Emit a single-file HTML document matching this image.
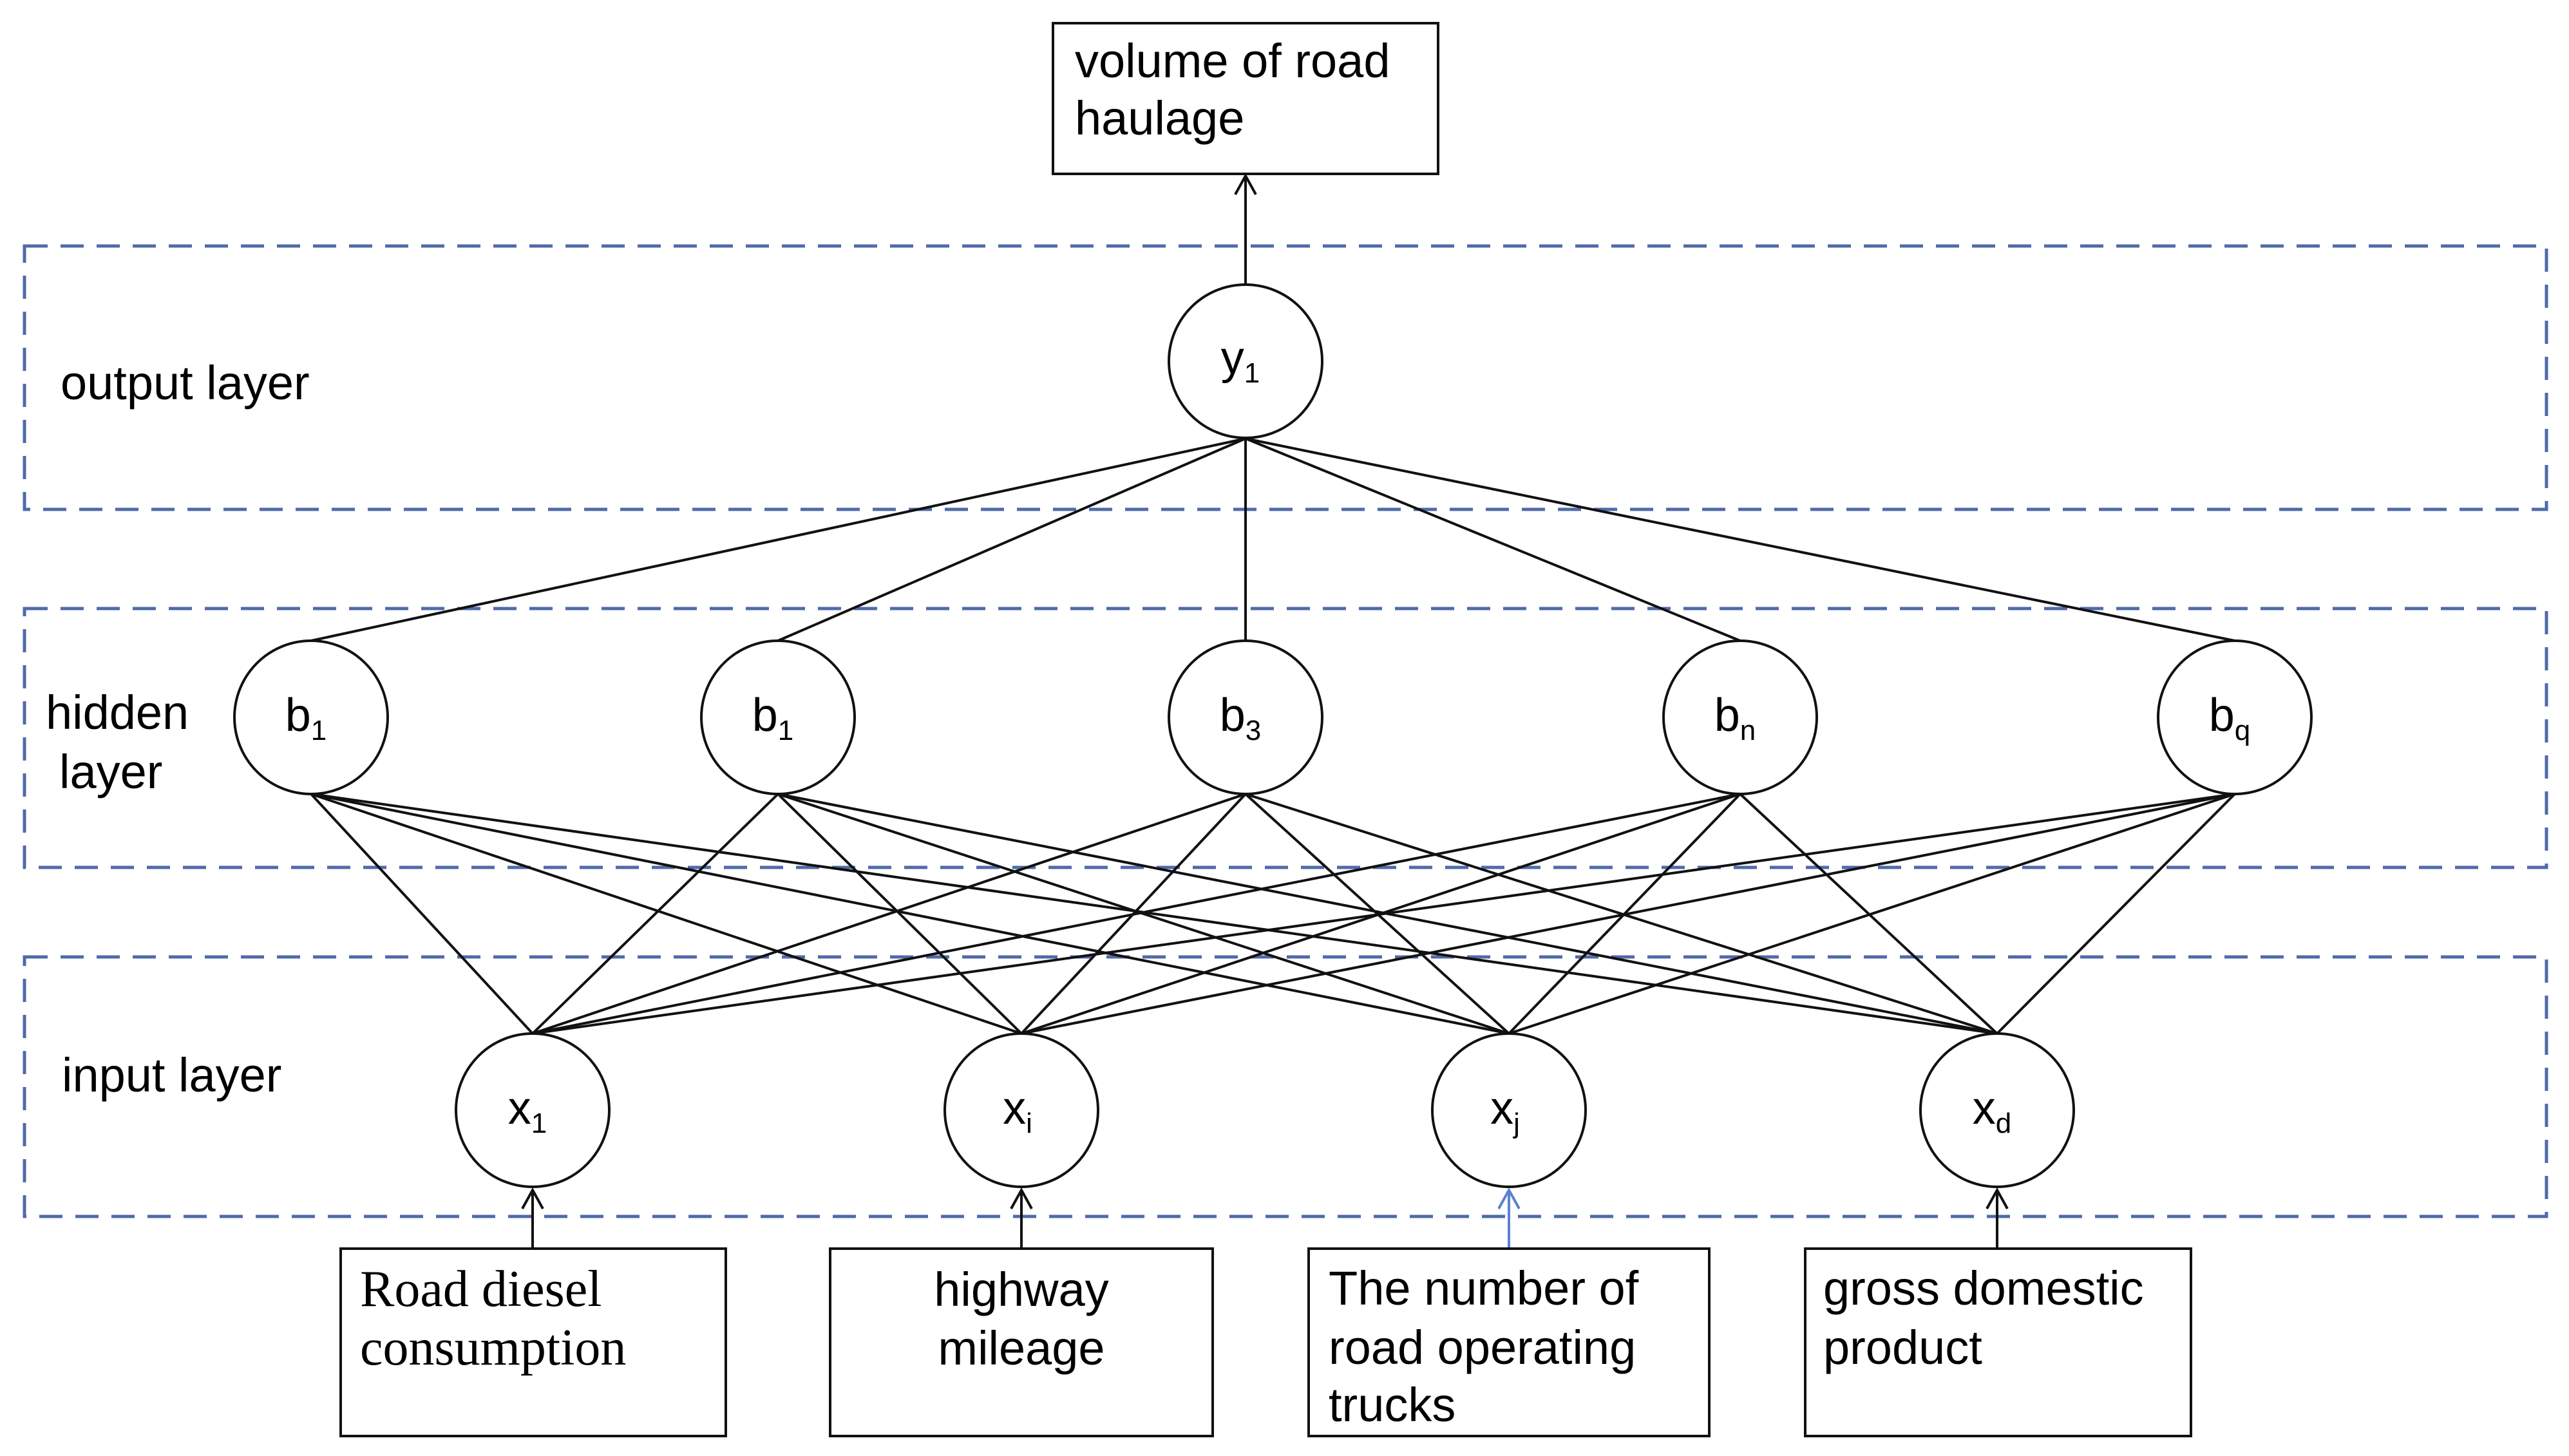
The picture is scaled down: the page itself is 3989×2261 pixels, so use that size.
<!DOCTYPE html>
<html><head><meta charset="utf-8"><style>
html,body{margin:0;padding:0;background:#fff;}
svg{display:block;}
text{font-family:"Liberation Sans",sans-serif;fill:#000;}
text.serif{font-family:"Liberation Serif",serif;}
</style></head><body>
<svg width="3989" height="2261" viewBox="0 0 3989 2261" xmlns="http://www.w3.org/2000/svg">
<g fill="none" stroke="#4f6aa8" stroke-width="5" stroke-dasharray="36,20">
<rect x="38" y="382" width="3916" height="409"/>
<rect x="38" y="945" width="3916" height="402"/>
<rect x="38" y="1486" width="3916" height="403"/>
</g>
<g stroke="#111" stroke-width="4" fill="none">
<line x1="483" y1="995" x2="1934" y2="681"/>
<line x1="1208" y1="995" x2="1934" y2="681"/>
<line x1="1934" y1="995" x2="1934" y2="681"/>
<line x1="2702" y1="995" x2="1934" y2="681"/>
<line x1="3470" y1="995" x2="1934" y2="681"/>
<line x1="827" y1="1605" x2="483" y2="1233"/><line x1="827" y1="1605" x2="1208" y2="1233"/><line x1="827" y1="1605" x2="1934" y2="1233"/><line x1="827" y1="1605" x2="2702" y2="1233"/><line x1="827" y1="1605" x2="3470" y2="1233"/>
<line x1="1586" y1="1605" x2="483" y2="1233"/><line x1="1586" y1="1605" x2="1208" y2="1233"/><line x1="1586" y1="1605" x2="1934" y2="1233"/><line x1="1586" y1="1605" x2="2702" y2="1233"/><line x1="1586" y1="1605" x2="3470" y2="1233"/>
<line x1="2343" y1="1605" x2="483" y2="1233"/><line x1="2343" y1="1605" x2="1208" y2="1233"/><line x1="2343" y1="1605" x2="1934" y2="1233"/><line x1="2343" y1="1605" x2="2702" y2="1233"/><line x1="2343" y1="1605" x2="3470" y2="1233"/>
<line x1="3101" y1="1605" x2="483" y2="1233"/><line x1="3101" y1="1605" x2="1208" y2="1233"/><line x1="3101" y1="1605" x2="1934" y2="1233"/><line x1="3101" y1="1605" x2="2702" y2="1233"/><line x1="3101" y1="1605" x2="3470" y2="1233"/>
<line x1="1934" y1="441" x2="1934" y2="273"/><polyline points="1918,302 1934,273 1950,302"/>
<line x1="827" y1="1939" x2="827" y2="1848"/><polyline points="811,1877 827,1848 843,1877"/>
<line x1="1586" y1="1939" x2="1586" y2="1848"/><polyline points="1570,1877 1586,1848 1602,1877"/>
<g stroke="#5b82d0"><line x1="2343" y1="1939" x2="2343" y2="1848"/><polyline points="2327,1877 2343,1848 2359,1877"/></g>
<line x1="3101" y1="1939" x2="3101" y2="1848"/><polyline points="3085,1877 3101,1848 3117,1877"/>
</g>
<g stroke="#111" stroke-width="4" fill="#fff">
<rect x="1635" y="36" width="598" height="234"/>
<rect x="529" y="1939" width="598" height="291"/>
<rect x="1289" y="1939" width="594" height="291"/>
<rect x="2032" y="1939" width="622" height="291"/>
<rect x="2803" y="1939" width="599" height="291"/>
<circle cx="1934" cy="561" r="119"/>
<circle cx="483" cy="1114" r="119"/>
<circle cx="1208" cy="1114" r="119"/>
<circle cx="1934" cy="1114" r="119"/>
<circle cx="2702" cy="1114" r="119"/>
<circle cx="3470" cy="1114" r="119"/>
<circle cx="827" cy="1724" r="119"/>
<circle cx="1586" cy="1724" r="119"/>
<circle cx="2343" cy="1724" r="119"/>
<circle cx="3101" cy="1724" r="119"/>
</g>
<g font-size="74">
<text x="1669" y="120">volume of road</text>
<text x="1669" y="209">haulage</text>
<text x="94" y="620">output layer</text>
<text x="71" y="1132">hidden</text>
<text x="92" y="1224">layer</text>
<text x="96" y="1695">input layer</text>
<text x="1586" y="2028" text-anchor="middle">highway</text>
<text x="1586" y="2119" text-anchor="middle">mileage</text>
<text x="2063" y="2026">The number of</text>
<text x="2063" y="2118">road operating</text>
<text x="2063" y="2207">trucks</text>
<text x="2831" y="2026">gross domestic</text>
<text x="2831" y="2118">product</text>
</g>
<g font-size="80">
<text class="serif" x="559" y="2028">Road diesel</text>
<text class="serif" x="559" y="2119">consumption</text>
</g>
<g font-size="72" text-anchor="middle">
<text x="1926" y="580">y<tspan font-size="44" dy="14">1</tspan></text>
<text x="475" y="1135">b<tspan font-size="44" dy="14">1</tspan></text>
<text x="1200" y="1135">b<tspan font-size="44" dy="14">1</tspan></text>
<text x="1926" y="1135">b<tspan font-size="44" dy="14">3</tspan></text>
<text x="2694" y="1135">b<tspan font-size="44" dy="14">n</tspan></text>
<text x="3462" y="1135">b<tspan font-size="44" dy="14">q</tspan></text>
<text x="819" y="1745">x<tspan font-size="44" dy="14">1</tspan></text>
<text x="1580" y="1745">x<tspan font-size="44" dy="14">i</tspan></text>
<text x="2337" y="1745">x<tspan font-size="44" dy="14">j</tspan></text>
<text x="3093" y="1745">x<tspan font-size="44" dy="14">d</tspan></text>
</g>
</svg>
</body></html>
